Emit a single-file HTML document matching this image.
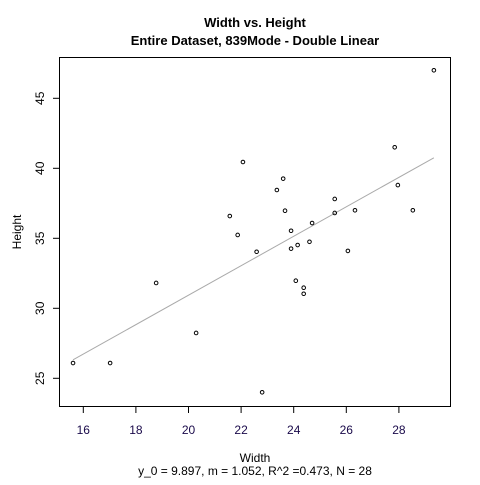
<!DOCTYPE html>
<html><head><meta charset="utf-8"><style>
body{margin:0;background:#fff;}
text{font-family:"Liberation Sans",Arial,sans-serif;}
</style></head><body>
<svg id="c" width="480" height="480" xmlns="http://www.w3.org/2000/svg">
<rect width="480" height="480" fill="#fff"/>
<text x="255" y="27" font-size="13" font-weight="bold" text-anchor="middle">Width vs. Height</text>
<text x="255" y="45" font-size="13" font-weight="bold" text-anchor="middle">Entire Dataset, 839Mode - Double Linear</text>
<text x="255" y="462" font-size="12" text-anchor="middle">Width</text>
<text x="255" y="475" font-size="12" text-anchor="middle">y_0 = 9.897, m = 1.052, R^2 =0.473, N = 28</text>
<text x="0" y="0" font-size="12" text-anchor="middle" transform="translate(21,232) rotate(-90)">Height</text>
<rect x="59.5" y="57.5" width="391" height="349" fill="none" stroke="#000"/>
<g id="g"></g>
</svg>
<script>
const xs=[15.61,17.02,18.77,20.29,22.07,23.6,23.36,21.57,23.67,21.87,22.59,25.56,25.56,24.7,23.9,24.6,24.15,23.9,24.08,24.38,24.38,22.8,26.06,26.33,28.53,27.84,27.96,29.33];
const ys=[26.09,26.09,31.81,28.24,40.45,39.26,38.45,36.59,36.97,35.24,34.04,37.81,36.81,36.09,35.54,34.75,34.52,34.26,31.97,31.47,31.04,24.0,34.1,37.0,37.0,41.5,38.8,47.0];
const xTicks=[16,18,20,22,24,26,28];
const yTicks=[25,30,35,40,45];
const fitB=9.897, fitM=1.052;
const X=v=>83.3+(v-16)*26.3;
const Y=v=>378.3-(v-25)*14;
const ns="http://www.w3.org/2000/svg",g=document.getElementById('g');
function mk(t,a){const e=document.createElementNS(ns,t);for(const k in a)e.setAttribute(k,a[k]);g.appendChild(e);return e;}
xTicks.forEach(t=>{
 const l=mk('line',{x1:X(t),x2:X(t),y1:406.5,y2:413,stroke:'#000'});
 
 
 const s=mk('text',{x:X(t),y:434,'font-size':12,'text-anchor':'middle',fill:'#1a0a4a'});s.textContent=t;
 
 
});
yTicks.forEach(t=>{
 const l=mk('line',{x1:53,x2:59.5,y1:Y(t),y2:Y(t),stroke:'#000'});
 
 
 const s=mk('text',{x:0,y:0,'font-size':12,'text-anchor':'middle',transform:`translate(44,${Y(t)}) rotate(-90)`});s.textContent=t;
 
 
});
const x0=Math.min(...xs),x1=Math.max(...xs);
const fl=mk('line',{x1:X(x0),y1:Y(fitB+fitM*x0),x2:X(x1),y2:Y(fitB+fitM*x1),stroke:'#aaa','stroke-width':1});


xs.forEach((v,i)=>{
 const c=mk('circle',{cx:X(v),cy:Y(ys[i]),r:1.8,fill:'none',stroke:'#000','stroke-width':1});
 
 
});
</script>
</body></html>
